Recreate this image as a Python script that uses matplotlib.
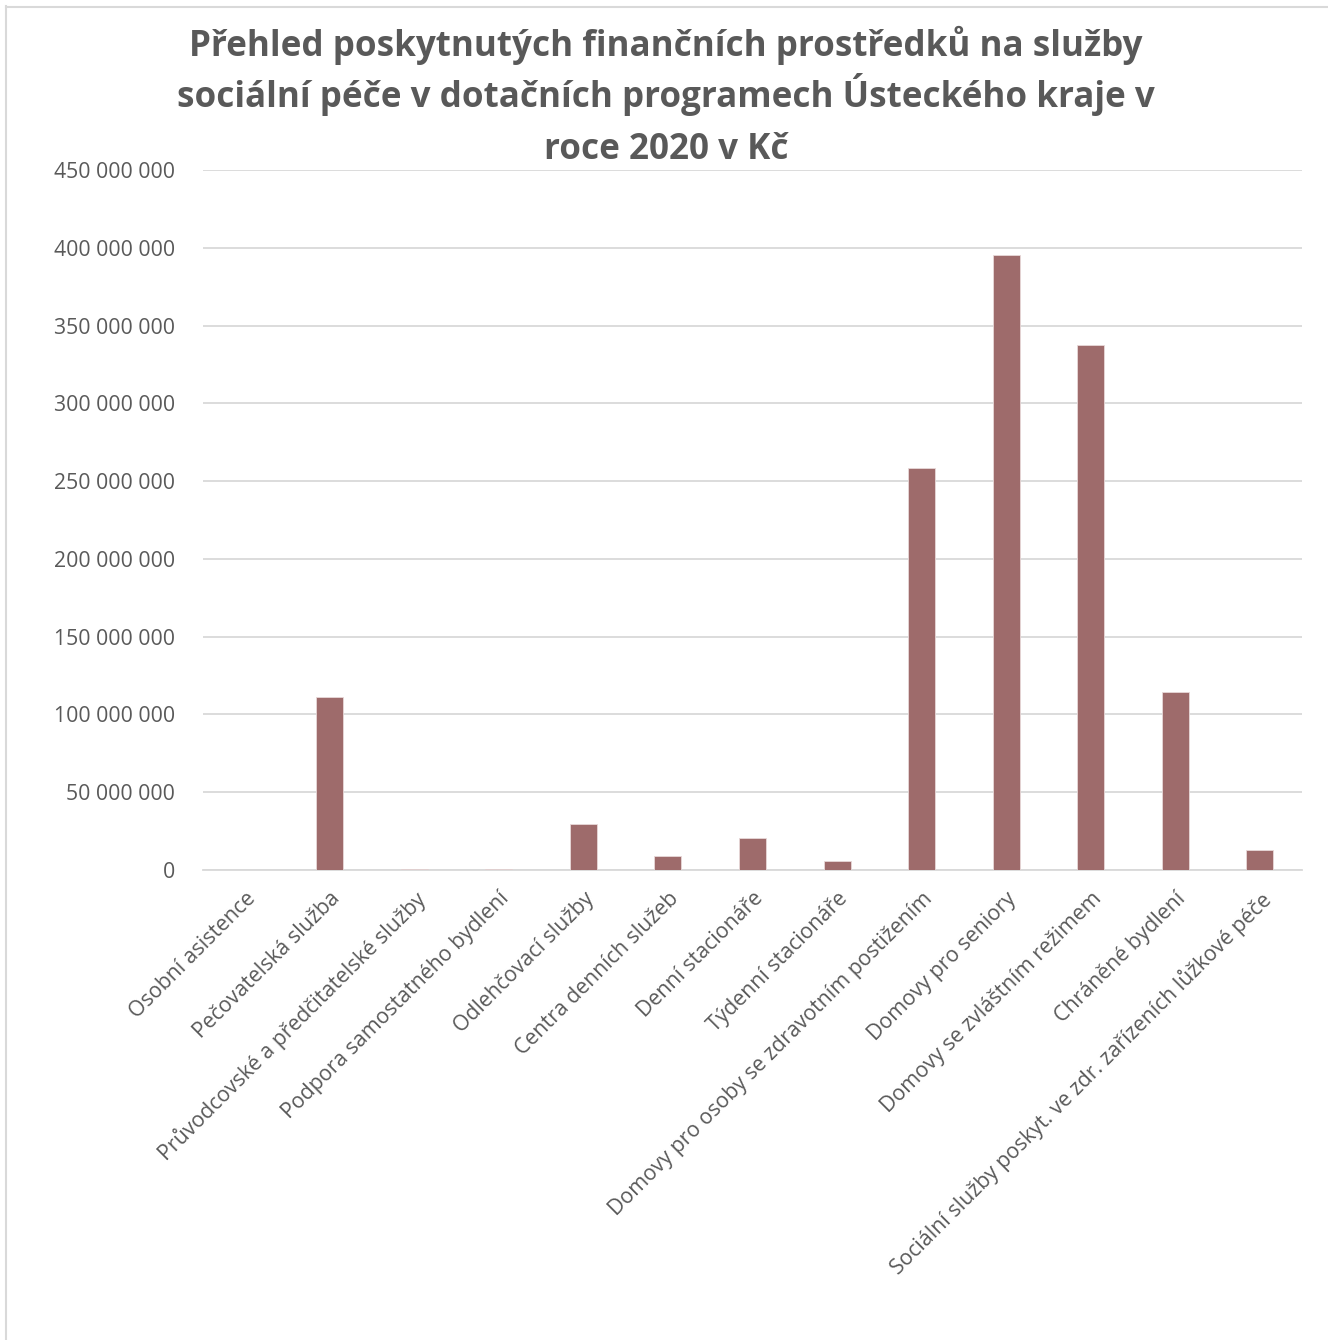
import matplotlib.pyplot as plt
from matplotlib.lines import Line2D
from matplotlib.ticker import FuncFormatter

plt.rcParams['font.family'] = ['Open Sans', 'DejaVu Sans']

categories = [
    "Osobní asistence",
    "Pečovatelská služba",
    "Průvodcovské a předčitatelské služby",
    "Podpora samostatného bydlení",
    "Odlehčovací služby",
    "Centra denních služeb",
    "Denní stacionáře",
    "Týdenní stacionáře",
    "Domovy pro osoby se zdravotním postižením",
    "Domovy pro seniory",
    "Domovy se zvláštním režimem",
    "Chráněné bydlení",
    "Sociální služby poskyt. ve zdr. zařízeních lůžkové péče",
]
values = [0, 111200000, 500000, 500000, 29600000, 9000000, 20600000,
          5800000, 258400000, 395400000, 337500000, 114400000, 12900000]

title_lines = [
    "Přehled poskytnutých finančních prostředků na služby",
    "sociální péče v dotačních programech Ústeckého kraje v",
    "roce 2020 v Kč",
]

bar_color = "#9E6B6B"
grid_color = "#D9D9D9"
text_color = "#595959"

fig = plt.figure(figsize=(13.28, 13.40), dpi=100)
ax = fig.add_axes([203/1328, 1-870/1340, (1302-203)/1328, 700/1340])

x = range(len(categories))
ax.bar(x, values, width=0.32, color=bar_color, edgecolor="#E8D8D8", linewidth=0.6, zorder=3)

ax.set_xlim(-0.5, len(categories) - 0.5)
ax.set_ylim(0, 450000000)
ax.set_yticks(range(0, 450000001, 50000000))
ax.yaxis.set_major_formatter(FuncFormatter(lambda v, p: f"{int(v):,}".replace(",", " ")))
ax.grid(axis="y", color=grid_color, linewidth=1.3, zorder=0)
for s in ["top", "right", "left"]:
    ax.spines[s].set_visible(False)
ax.spines["bottom"].set_color(grid_color)
ax.spines["bottom"].set_linewidth(1.3)
ax.tick_params(axis="both", length=0, colors=text_color)
ax.tick_params(axis="y", pad=20, labelsize=15.3)
ax.set_xticks(list(x))
ax.set_xticklabels(categories, rotation=45, ha="right", rotation_mode="anchor")
ax.tick_params(axis="x", pad=13, labelsize=15.3)

# title, one line at a time so the spacing stays even
for line, base in zip(title_lines, [56, 107, 159]):
    fig.text(666/1328, 1-base/1340, line, ha="center", va="baseline", fontsize=25.2,
             fontweight="bold", color=text_color)

# chart area border (left and top edges visible)
fig.add_artist(Line2D([6/1328, 6/1328], [0, 1-6/1340], color=grid_color, linewidth=1.5))
fig.add_artist(Line2D([6/1328, 1], [1-7/1340, 1-7/1340], color=grid_color, linewidth=1.5))

fig.savefig("out.png", dpi=100, facecolor="white")
